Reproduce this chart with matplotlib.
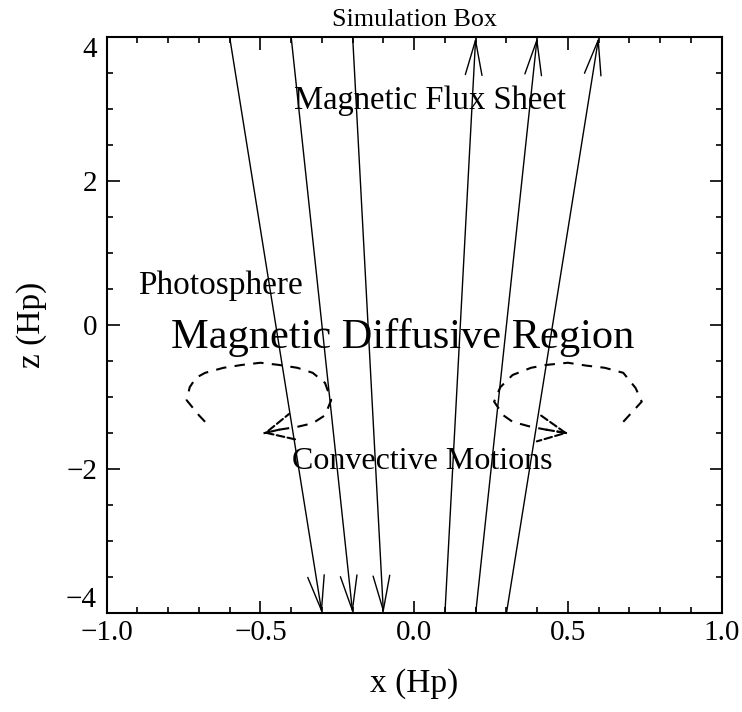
import numpy as np
import matplotlib.pyplot as plt
from matplotlib.ticker import MultipleLocator, FixedLocator

plt.rcParams['font.family'] = ['Liberation Serif', 'DejaVu Serif']

# field lines of the flux sheet: x (Hp) at the top (z=4) and bottom (z=-4)
line_top_x = [-0.6, -0.4, -0.2, 0.2, 0.4, 0.6]
line_bot_x = [-0.3, -0.2, -0.1, 0.1, 0.2, 0.3]
line_down = [True, True, True, False, False, False]
z_top, z_bot = 4.0, -4.0

# convective motion loops (dashed)
left_loop_x = [-0.68, -0.70, -0.74, -0.73, -0.71, -0.68, -0.62, -0.56, -0.50, -0.44,
               -0.38, -0.33, -0.29, -0.27, -0.29, -0.33, -0.38, -0.44, -0.49]
left_loop_z = [-1.34, -1.25, -1.04, -0.86, -0.73, -0.66, -0.59, -0.55, -0.52, -0.55,
               -0.59, -0.66, -0.80, -1.04, -1.25, -1.36, -1.41, -1.45, -1.50]
right_loop_x = [0.68, 0.74, 0.72, 0.68, 0.62, 0.56, 0.50, 0.43, 0.38, 0.32,
                0.28, 0.26, 0.29, 0.32, 0.38, 0.43, 0.50]
right_loop_z = [-1.34, -1.06, -0.87, -0.66, -0.59, -0.56, -0.52, -0.55, -0.59, -0.69,
                -0.86, -1.06, -1.25, -1.34, -1.41, -1.45, -1.50]

x_ticks = [-1.0, -0.5, 0.0, 0.5, 1.0]
z_ticks = [-4, -2, 0, 2, 4]

fig = plt.figure(figsize=(7.42, 7.12), dpi=100)
ax = fig.add_axes([0.1438, 0.1386, 0.8288, 0.809])

# field lines with open arrow heads
for xt, xb, down in zip(line_top_x, line_bot_x, line_down):
    if down:
        start, end = (xt, z_top), (xb, z_bot)
    else:
        start, end = (xb, z_bot), (xt, z_top)
    ax.annotate('', xy=end, xytext=start, annotation_clip=False,
                arrowprops=dict(arrowstyle='->,head_length=1.25,head_width=0.3',
                                lw=1.0, color='black', shrinkA=0, shrinkB=0,
                                mutation_scale=20))

# dashed convective loops with arrow at the end
for lx, lz in [(left_loop_x, left_loop_z), (right_loop_x, right_loop_z)]:
    ax.plot(lx, lz, color='black', lw=1.5, ls=(0, (5, 4)))
    ax.annotate('', xy=(lx[-1], lz[-1]), xytext=(lx[-2], lz[-2]),
                arrowprops=dict(arrowstyle='->,head_length=0.97,head_width=0.47',
                                lw=1.5, ls='--', color='black', shrinkA=0, shrinkB=0,
                                mutation_scale=20))

# labels inside the box
ax.text(0.05, 3.0, 'Magnetic Flux Sheet', fontsize=23.5, ha='center', va='baseline')
ax.text(-0.898, 0.435, 'Photosphere', fontsize=24, ha='left', va='baseline')
ax.text(-0.036, -0.31, 'Magnetic Diffusive Region', fontsize=30.5, ha='center', va='baseline')
ax.text(0.025, -2.0, 'Convective Motions', fontsize=23, ha='center', va='baseline')
ax.set_title('Simulation Box', fontsize=18.8, pad=8)

ax.set_xlim(-1, 1)
ax.set_ylim(-4, 4)
ax.xaxis.set_major_locator(FixedLocator(x_ticks))
ax.xaxis.set_minor_locator(MultipleLocator(0.1))
ax.yaxis.set_major_locator(FixedLocator(z_ticks))
ax.yaxis.set_minor_locator(MultipleLocator(0.5))
ax.set_xticklabels(['\u22121.0', '\u22120.5', '0.0', '0.5', '1.0'])
ax.set_yticklabels(['\u22124', '\u22122', '0', '2', '4'])
ax.tick_params(which='both', direction='in', top=True, right=True, width=1.2)
ax.tick_params(which='major', length=9, labelsize=21)
ax.tick_params(which='minor', length=4.5)
ax.tick_params(axis='x', pad=5)
ax.tick_params(axis='y', pad=7)
for s in ax.spines.values():
    s.set_linewidth(1.5)

# end labels of the z axis sit inside the range, as in the original
yt = ax.yaxis.get_major_ticks()
yt[0].label1.set_va('bottom')
yt[-1].label1.set_va('top')

ax.set_xlabel('x (Hp)', fontsize=24, labelpad=16)
ax.set_ylabel('z (Hp)', fontsize=24, labelpad=14)

fig.savefig('out.png', dpi=100)
